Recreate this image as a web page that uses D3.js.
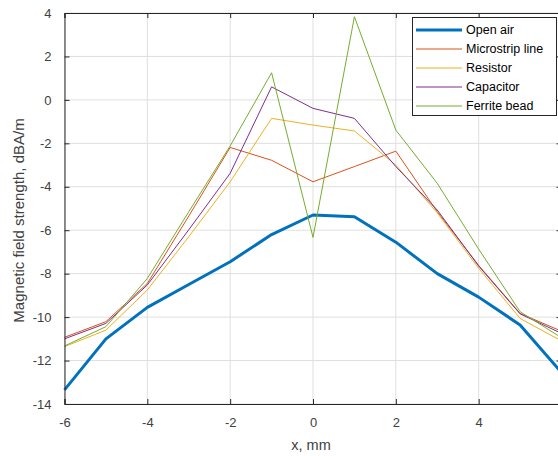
<!DOCTYPE html>
<html>
<head>
<meta charset="utf-8">
<script src="https://cdn.jsdelivr.net/npm/d3@7"></script>
<style>
  html, body { margin: 0; padding: 0; background: #fff; overflow: hidden; }
  svg { display: block; font-family: "Liberation Sans", Arial, sans-serif; }
</style>
</head>
<body>
<svg id="chart" width="558" height="456"></svg>
<script>
const xValues = [-6, -5, -4, -3, -2, -1, 0, 1, 2, 3, 4, 5, 6];
const openAir    = [-13.35, -11.0, -9.55, -8.5, -7.45, -6.2, -5.3, -5.38, -6.55, -8.0, -9.08, -10.36, -12.55];
const microstrip = [-10.93, -10.21, -8.45, -5.35, -2.19, -2.78, -3.77, -3.07, -2.36, -5.15, -7.62, -9.83, -10.65];
const resistor   = [-11.36, -10.6, -8.75, -6.3, -3.77, -0.85, -1.16, -1.43, -3.0, -5.2, -7.75, -10.06, -11.1];
const capacitor  = [-11.0, -10.29, -8.52, -5.98, -3.38, 0.6, -0.39, -0.85, -3.07, -5.07, -7.65, -9.85, -10.75];
const ferrite    = [-11.33, -10.44, -8.22, -5.15, -2.12, 1.25, -6.33, 3.83, -1.39, -3.84, -6.87, -9.75, -10.95];
const seriesNames = ["Open air", "Microstrip line", "Resistor", "Capacitor", "Ferrite bead"];
const seriesValues = [openAir, microstrip, resistor, capacitor, ferrite];
const xTicks = [-6, -4, -2, 0, 2, 4, 6];
const yTicks = [-14, -12, -10, -8, -6, -4, -2, 0, 2, 4];
const xLabel = "x, mm";
const yLabel = "Magnetic field strength, dBA/m";

const colors = ["#0072BD", "#D95319", "#EDB120", "#7E2F8E", "#77AC30"];
const widths = [3, 1, 1, 1, 1];

const svg = d3.select("#chart");
const L = 64.5, R = 561.5, T = 13, B = 404;
const x = d3.scaleLinear().domain([-6, 6]).range([L, R]);
const y = d3.scaleLinear().domain([-14, 4]).range([B, T]);

const axisColor = "#262626";
const textColor = "#404040";

// grid
const grid = svg.append("g");
grid.selectAll("line.gx").data(xTicks).join("line")
  .attr("x1", d => x(d)).attr("x2", d => x(d)).attr("y1", T).attr("y2", B)
  .attr("stroke", "#dfdfdf").attr("stroke-width", 1);
grid.selectAll("line.gy").data(yTicks).join("line")
  .attr("x1", L).attr("x2", R).attr("y1", d => y(d)).attr("y2", d => y(d))
  .attr("stroke", "#dfdfdf").attr("stroke-width", 1);

// lines
const lineGen = d3.line().x((d, i) => x(xValues[i])).y(d => y(d));
seriesValues.forEach((vals, k) => {
  svg.append("path").datum(vals)
    .attr("d", lineGen)
    .attr("fill", "none")
    .attr("stroke", colors[k])
    .attr("stroke-width", widths[k])
    .attr("stroke-linejoin", "round");
});

// axes
const tickLen = -5;
const axB = svg.append("g").attr("transform", `translate(0,${B})`)
  .call(d3.axisBottom(x).tickValues(xTicks).tickSize(tickLen).tickPadding(14).tickFormat(d3.format("d")));
const axT = svg.append("g").attr("transform", `translate(0,${T})`)
  .call(d3.axisTop(x).tickValues(xTicks).tickSize(tickLen).tickFormat(""));
const axL = svg.append("g").attr("transform", `translate(${L},0)`)
  .call(d3.axisLeft(y).tickValues(yTicks).tickSize(tickLen).tickPadding(13).tickFormat(d3.format("d")));
const axR = svg.append("g").attr("transform", `translate(${R},0)`)
  .call(d3.axisRight(y).tickValues(yTicks).tickSize(tickLen).tickFormat(""));
[axB, axT, axL, axR].forEach(g => {
  g.select(".domain").attr("stroke", axisColor).attr("stroke-width", 1);
  g.selectAll(".tick line").attr("stroke", axisColor);
  g.selectAll(".tick text").attr("fill", textColor)
    .style("font-family", '"Liberation Sans", Arial, sans-serif').style("font-size", "13px");
});
axB.selectAll(".tick text").text(d => d < 0 ? "-" + Math.abs(d) : d);
axL.selectAll(".tick text").text(d => d < 0 ? "-" + Math.abs(d) : d);

// axis labels
svg.append("text").attr("x", (L + R) / 2 - 2).attr("y", 450)
  .attr("text-anchor", "middle").attr("fill", textColor)
  .style("font-size", "14.5px").text(xLabel);
svg.append("text")
  .attr("transform", `translate(24,${(T + B) / 2 + 12}) rotate(-90)`)
  .attr("text-anchor", "middle").attr("fill", textColor)
  .style("font-size", "15px").text(yLabel);

// legend
const lg = svg.append("g");
lg.append("rect").attr("x", 412.5).attr("y", 17.5).attr("width", 144).attr("height", 98)
  .attr("fill", "#fff").attr("stroke", axisColor).attr("stroke-width", 1);
const rowY = [30, 49, 68, 87, 106];
seriesNames.forEach((name, k) => {
  lg.append("line").attr("x1", 416).attr("x2", 462).attr("y1", rowY[k]).attr("y2", rowY[k])
    .attr("stroke", colors[k]).attr("stroke-width", widths[k]);
  lg.append("text").attr("x", 466).attr("y", rowY[k]).attr("dy", "0.35em")
    .attr("fill", "#000").style("font-size", "12.5px").text(name);
});
</script>
</body>
</html>
